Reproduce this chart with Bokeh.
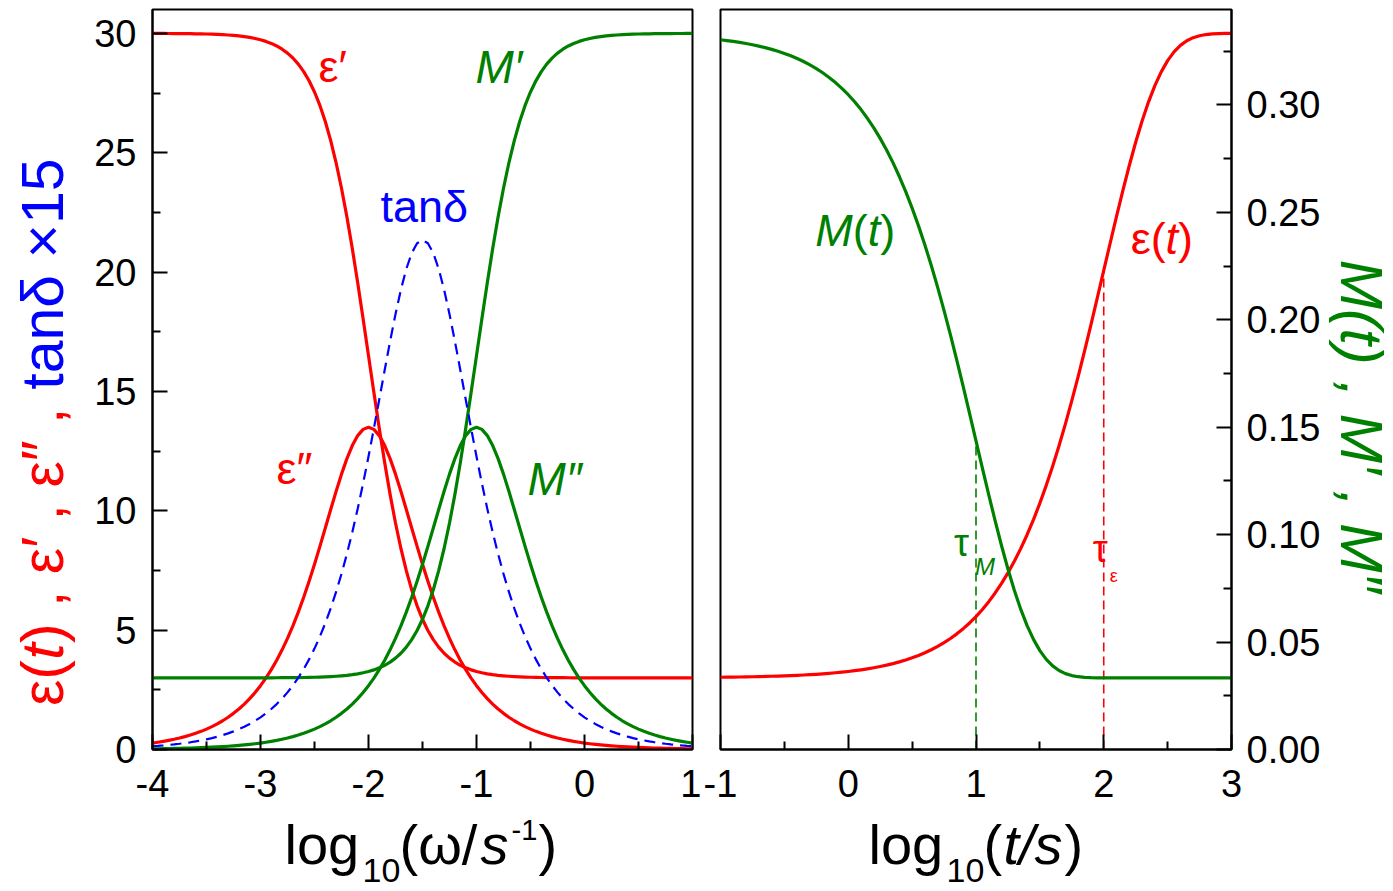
import math

from bokeh.embed import file_html
from bokeh.layouts import column, row
from bokeh.models import FixedTicker, Label, LinearAxis, PrintfTickFormatter, Range1d
from bokeh.plotting import figure
from bokeh.resources import INLINE

# ---------------------------------------------------------------- data
# frequency domain, log10(omega / s^-1)
log_omega = [round(-4 + 0.05 * i, 2) for i in range(101)]

# permittivity, real part
eps_real = [29.997, 29.997, 29.996, 29.995, 29.993, 29.991, 29.989, 29.986, 29.983, 29.979,
            29.973, 29.966, 29.957, 29.946, 29.932, 29.915, 29.893, 29.865, 29.831, 29.787,
            29.733, 29.664, 29.579, 29.472, 29.338, 29.172, 28.966, 28.711, 28.398, 28.013,
            27.545, 26.981, 26.307, 25.509, 24.579, 23.513, 22.312, 20.986, 19.555, 18.047,
            16.500, 14.953, 13.445, 12.014, 10.688, 9.487, 8.421, 7.491, 6.693, 6.019,
            5.455, 4.987, 4.602, 4.289, 4.034, 3.828, 3.662, 3.528, 3.421, 3.336,
            3.267, 3.213, 3.169, 3.135, 3.107, 3.085, 3.068, 3.054, 3.043, 3.034,
            3.027, 3.021, 3.017, 3.014, 3.011, 3.009, 3.007, 3.005, 3.004, 3.003,
            3.003, 3.002, 3.002, 3.001, 3.001, 3.001, 3.001, 3.000, 3.000, 3.000,
            3.000, 3.000, 3.000, 3.000, 3.000, 3.000, 3.000, 3.000, 3.000, 3.000,
            3.000]

# permittivity, imaginary part
eps_imag = [0.270, 0.303, 0.340, 0.382, 0.428, 0.480, 0.538, 0.604, 0.678, 0.760,
            0.853, 0.957, 1.073, 1.204, 1.350, 1.514, 1.697, 1.902, 2.131, 2.387,
            2.673, 2.992, 3.346, 3.739, 4.174, 4.654, 5.181, 5.756, 6.380, 7.050,
            7.762, 8.509, 9.278, 10.054, 10.815, 11.535, 12.185, 12.733, 13.150, 13.411,
            13.500, 13.411, 13.150, 12.733, 12.185, 11.535, 10.815, 10.054, 9.278, 8.509,
            7.762, 7.050, 6.380, 5.756, 5.181, 4.654, 4.174, 3.739, 3.346, 2.992,
            2.673, 2.387, 2.131, 1.902, 1.697, 1.514, 1.350, 1.204, 1.073, 0.957,
            0.853, 0.760, 0.678, 0.604, 0.538, 0.480, 0.428, 0.382, 0.340, 0.303,
            0.270, 0.241, 0.214, 0.191, 0.170, 0.152, 0.135, 0.121, 0.107, 0.096,
            0.085, 0.076, 0.068, 0.060, 0.054, 0.048, 0.043, 0.038, 0.034, 0.030,
            0.027]

# electric modulus, real part
mod_real = [0.03333, 0.03333, 0.03333, 0.03333, 0.03333, 0.03333, 0.03333, 0.03333, 0.03333, 0.03333,
            0.03334, 0.03334, 0.03334, 0.03334, 0.03334, 0.03334, 0.03335, 0.03335, 0.03335, 0.03336,
            0.03336, 0.03337, 0.03338, 0.03339, 0.03341, 0.03343, 0.03345, 0.03348, 0.03352, 0.03357,
            0.03363, 0.03371, 0.03381, 0.03393, 0.03409, 0.03428, 0.03452, 0.03483, 0.03521, 0.03570,
            0.03630, 0.03706, 0.03801, 0.03920, 0.04068, 0.04253, 0.04482, 0.04765, 0.05114, 0.05541,
            0.06061, 0.06688, 0.07437, 0.08324, 0.09356, 0.10541, 0.11876, 0.13349, 0.14939, 0.16614,
            0.18333, 0.20052, 0.21727, 0.23317, 0.24791, 0.26125, 0.27310, 0.28343, 0.29229, 0.29978,
            0.30606, 0.31125, 0.31552, 0.31901, 0.32184, 0.32413, 0.32598, 0.32746, 0.32865, 0.32960,
            0.33036, 0.33097, 0.33145, 0.33183, 0.33214, 0.33238, 0.33258, 0.33273, 0.33286, 0.33295,
            0.33303, 0.33309, 0.33314, 0.33318, 0.33321, 0.33323, 0.33326, 0.33327, 0.33328, 0.33329,
            0.33330]

# electric modulus, imaginary part
mod_imag = [0.00030, 0.00034, 0.00038, 0.00042, 0.00048, 0.00053, 0.00060, 0.00067, 0.00075, 0.00085,
            0.00095, 0.00106, 0.00119, 0.00134, 0.00150, 0.00169, 0.00189, 0.00212, 0.00238, 0.00267,
            0.00300, 0.00337, 0.00378, 0.00424, 0.00476, 0.00533, 0.00598, 0.00671, 0.00753, 0.00845,
            0.00948, 0.01063, 0.01193, 0.01337, 0.01500, 0.01682, 0.01886, 0.02113, 0.02368, 0.02653,
            0.02970, 0.03324, 0.03718, 0.04155, 0.04638, 0.05171, 0.05757, 0.06396, 0.07088, 0.07833,
            0.08624, 0.09454, 0.10309, 0.11171, 0.12017, 0.12817, 0.13538, 0.14148, 0.14611, 0.14901,
            0.15000, 0.14901, 0.14611, 0.14148, 0.13538, 0.12817, 0.12017, 0.11171, 0.10309, 0.09454,
            0.08624, 0.07833, 0.07088, 0.06396, 0.05757, 0.05171, 0.04638, 0.04155, 0.03718, 0.03324,
            0.02970, 0.02653, 0.02368, 0.02113, 0.01886, 0.01682, 0.01500, 0.01337, 0.01193, 0.01063,
            0.00948, 0.00845, 0.00753, 0.00671, 0.00598, 0.00533, 0.00476, 0.00424, 0.00378, 0.00337,
            0.00300]

# loss tangent
tan_delta = [0.00900, 0.01010, 0.01133, 0.01274, 0.01427, 0.01600, 0.01794, 0.02014, 0.02261, 0.02535,
             0.02846, 0.03194, 0.03582, 0.04021, 0.04510, 0.05061, 0.05677, 0.06369, 0.07144, 0.08014,
             0.08990, 0.10086, 0.11312, 0.12687, 0.14227, 0.15954, 0.17887, 0.20048, 0.22466, 0.25167,
             0.28179, 0.31537, 0.35268, 0.39414, 0.44001, 0.49058, 0.54612, 0.60674, 0.67246, 0.74312,
             0.81818, 0.89688, 0.97806, 1.05985, 1.14006, 1.21587, 1.28429, 1.34215, 1.38623, 1.41369,
             1.42292,
             1.41369, 1.38623, 1.34215, 1.28429, 1.21587, 1.14006, 1.05985, 0.97806, 0.89688, 0.81818,
             0.74312, 0.67246, 0.60674, 0.54612, 0.49058, 0.44001, 0.39414, 0.35268, 0.31537, 0.28179,
             0.25167, 0.22466, 0.20048, 0.17887, 0.15954, 0.14227, 0.12687, 0.11312, 0.10086, 0.08990,
             0.08014, 0.07144, 0.06369, 0.05677, 0.05061, 0.04510, 0.04021, 0.03582, 0.03194, 0.02846,
             0.02535, 0.02261, 0.02014, 0.01794, 0.01600, 0.01427, 0.01274, 0.01133, 0.01010, 0.00900]
TAN_SCALE = 15  # tan(delta) is shown multiplied by this factor

# time domain, log10(t / s)
log_t = [round(-1 + 0.05 * i, 2) for i in range(81)]

eps_t = [3.027, 3.030, 3.034, 3.038, 3.043, 3.048, 3.054, 3.060, 3.068, 3.076,
         3.085, 3.096, 3.107, 3.120, 3.135, 3.151, 3.170, 3.190, 3.214, 3.240,
         3.269, 3.301, 3.338, 3.379, 3.425, 3.476, 3.533, 3.598, 3.670, 3.750,
         3.840, 3.941, 4.054, 4.179, 4.320, 4.476, 4.651, 4.845, 5.062, 5.302,
         5.569, 5.866, 6.194, 6.557, 6.957, 7.399, 7.884, 8.416, 8.997, 9.631,
         10.320, 11.065, 11.867, 12.727, 13.643, 14.613, 15.634, 16.698, 17.800, 18.926,
         20.067, 21.208, 22.333, 23.425, 24.465, 25.439, 26.328, 27.122, 27.809, 28.388,
         28.857, 29.223, 29.496, 29.690, 29.820, 29.902, 29.951, 29.977, 29.990, 29.996,
         29.999]

mod_t = [0.33035, 0.32999, 0.32958, 0.32913, 0.32862, 0.32805, 0.32741, 0.32669, 0.32589, 0.32500,
         0.32400, 0.32288, 0.32162, 0.32023, 0.31867, 0.31693, 0.31499, 0.31283, 0.31043, 0.30775,
         0.30478, 0.30149, 0.29785, 0.29381, 0.28936, 0.28446, 0.27907, 0.27316, 0.26670, 0.25965,
         0.25200, 0.24373, 0.23481, 0.22526, 0.21508, 0.20430, 0.19296, 0.18113, 0.16889, 0.15638,
         0.14370, 0.13102, 0.11852, 0.10639, 0.09483, 0.08401, 0.07413, 0.06531, 0.05767, 0.05124,
         0.04603, 0.04197, 0.03893, 0.03678, 0.03533, 0.03442, 0.03388, 0.03359, 0.03344, 0.03337,
         0.03335, 0.03333, 0.03333, 0.03333, 0.03333, 0.03333, 0.03333, 0.03333, 0.03333, 0.03333,
         0.03333, 0.03333, 0.03333, 0.03333, 0.03333, 0.03333, 0.03333, 0.03333, 0.03333, 0.03333,
         0.03333]

log_tau_M = 1.0    # modulus relaxation time
log_tau_eps = 2.0  # permittivity relaxation time

eps_ticks = [0, 5, 10, 15, 20, 25, 30]
mod_ticks = [0.0, 0.05, 0.10, 0.15, 0.20, 0.25, 0.30]
omega_ticks = [-4, -3, -2, -1, 0, 1]
t_ticks = [-1, 0, 1, 2, 3]

# ---------------------------------------------------------------- styling
RED, GREEN, BLUE = "#FF0000", "#008000", "#0000FF"
FONT = "Liberation Sans"
EPS_TOP = 31.0
M_TOP = EPS_TOP / 90.0
LW = 3.2
BASE = 0.37  # label anchor sits this many ems above the glyph baseline

PAGE_W, PAGE_H = 1393, 891
ROW_H = 812                 # panels
FOOT_H = PAGE_H - ROW_H     # strip with the x titles
X_RT = 1323                 # left edge of the right title strip
W_YT, W_RT = 85, PAGE_W - X_RT
W_P1, W_P2 = 701 - W_YT, X_RT - 701
B_TOP = 9
B_BOTTOM = ROW_H - 749


def style_axis(ax, ticks, minor, fmt, standoff):
    ax.ticker = FixedTicker(ticks=ticks, minor_ticks=minor)
    ax.formatter = PrintfTickFormatter(format=fmt)
    ax.axis_line_width = 2
    ax.axis_line_color = "black"
    ax.major_tick_in = 15
    ax.major_tick_out = 0
    ax.minor_tick_in = 8
    ax.minor_tick_out = 0
    ax.major_tick_line_width = 2
    ax.minor_tick_line_width = 2
    ax.major_label_text_font = FONT
    ax.major_label_text_font_size = "38px"
    ax.major_label_text_color = "black"
    ax.major_label_standoff = standoff


def panel(width, x_range, left, right, y_axis_location):
    p = figure(width=width, height=ROW_H, x_range=x_range, y_range=Range1d(0, EPS_TOP),
               output_backend="svg", toolbar_location=None, y_axis_location=y_axis_location,
               min_border_left=left, min_border_right=right,
               min_border_top=B_TOP, min_border_bottom=B_BOTTOM)
    p.xgrid.visible = False
    p.ygrid.visible = False
    p.outline_line_color = "black"
    p.outline_line_width = 2
    p.background_fill_color = "white"
    p.border_fill_color = "white"
    return p


def strip(width, height):
    """Blank drawing area in pixel units, used for the axis titles."""
    s = figure(width=width, height=height, x_range=Range1d(0, width), y_range=Range1d(0, height),
               output_backend="svg", toolbar_location=None, min_border=0,
               x_axis_location=None, y_axis_location=None)
    s.xgrid.visible = False
    s.ygrid.visible = False
    s.outline_line_color = None
    s.background_fill_color = "white"
    s.border_fill_color = "white"
    return s


def text(p, x, y, s, color, size, style="normal", angle=0.0, align="left", range_name="default"):
    p.add_layout(Label(x=x, y=y, text=s, text_color=color, text_font=FONT,
                       text_font_size=f"{size}px", text_font_style=style, angle=angle,
                       text_align=align, text_baseline="alphabetic",
                       y_range_name=range_name))


# ---------------------------------------------------------------- frequency panel
p1 = panel(W_P1, Range1d(-4, 1), 152 - W_YT, 9, "left")
p1.extra_y_ranges = {"M": Range1d(0, M_TOP), "tan": Range1d(0, EPS_TOP / TAN_SCALE)}

style_axis(p1.xaxis[0], omega_ticks, [-3.5, -2.5, -1.5, -0.5, 0.5], "%d", 20)
style_axis(p1.yaxis[0], eps_ticks, [2.5, 7.5, 12.5, 17.5, 22.5, 27.5], "%d", 16)

p1.line(log_omega, eps_real, color=RED, line_width=LW, line_join="round")
p1.line(log_omega, eps_imag, color=RED, line_width=LW, line_join="round")
p1.line(log_omega, mod_real, color=GREEN, line_width=LW, line_join="round", y_range_name="M")
p1.line(log_omega, mod_imag, color=GREEN, line_width=LW, line_join="round", y_range_name="M")
p1.line(log_omega, tan_delta, color=BLUE, line_width=2.2, line_dash="11 7", y_range_name="tan")

text(p1, -2.463, 28.60, "ε′", RED, 45)
text(p1, -1.009, 28.60, "M′", GREEN, 46, "italic")
text(p1, -1.889, 22.73, "tanδ", BLUE, 45)
text(p1, -2.852, 11.76, "ε″", RED, 45)
text(p1, -0.528, 11.34, "M″", GREEN, 46, "italic")

# ---------------------------------------------------------------- time panel
p2 = panel(W_P2, Range1d(-1, 3), 19, X_RT - 1232, None)
p2.extra_y_ranges = {"M": Range1d(0, M_TOP)}
m_axis = LinearAxis(y_range_name="M")
p2.add_layout(m_axis, "right")

style_axis(p2.xaxis[0], t_ticks, [-0.5, 0.5, 1.5, 2.5], "%d", 20)
style_axis(m_axis, mod_ticks, [0.025, 0.075, 0.125, 0.175, 0.225, 0.275, 0.325], "%.2f", 15)

i_M = log_t.index(log_tau_M)
i_eps = log_t.index(log_tau_eps)
p2.segment(x0=[log_tau_M], y0=[0], x1=[log_tau_M], y1=[mod_t[i_M]], color=GREEN,
           line_width=1.6, line_dash="9 5", y_range_name="M")
p2.segment(x0=[log_tau_eps], y0=[0], x1=[log_tau_eps], y1=[eps_t[i_eps]], color=RED,
           line_width=1.6, line_dash="9 5")

p2.line(log_t, eps_t, color=RED, line_width=LW, line_join="round")
p2.line(log_t, mod_t, color=GREEN, line_width=LW, line_join="round", y_range_name="M")

# M(t)
text(p2, -0.258, 21.73, "M", GREEN, 45, "italic")
text(p2, 0.035, 21.73, "(", GREEN, 45)
text(p2, 0.152, 21.73, "t", GREEN, 45, "italic")
text(p2, 0.250, 21.73, ")", GREEN, 45)
# eps(t)
text(p2, 2.211, 21.39, "ε(", RED, 45)
text(p2, 2.483, 21.39, "t", RED, 45, "italic")
text(p2, 2.581, 21.39, ")", RED, 45)
# relaxation times
text(p2, 0.828, 8.63, "τ", GREEN, 38)
text(p2, 0.992, 7.66, "M", GREEN, 24, "italic")
text(p2, 1.914, 8.38, "τ", RED, 38)
text(p2, 2.047, 7.28, "ε", RED, 18)

# ---------------------------------------------------------------- title strips
# local coordinates: pixels, y measured up from the strip bottom
up = math.pi / 2
TS = 59  # vertical titles

# left: read bottom to top, each piece centred on its place
yt = strip(W_YT, PAGE_H)
tx = 64 - BASE * TS
text(yt, tx, PAGE_H - 682.6, "ε(", RED, TS, angle=up, align="center")
text(yt, tx, PAGE_H - 651.0, "t", RED, TS, "italic", angle=up, align="center")
text(yt, tx, PAGE_H - 524.8, ") , ε′ , ε″ ,", RED, TS, angle=up, align="center")
text(yt, tx, PAGE_H - 273.5, "tanδ ×15", BLUE, TS, angle=up, align="center")

# right: read top to bottom
rt = strip(W_RT, PAGE_H)
text(rt, 1339 + BASE * TS - X_RT, PAGE_H - 426, "M(t) , M′ , M″", GREEN, TS, "italic",
     angle=-up, align="center")

# bottom: both x titles
xt = strip(W_P1 + W_P2, FOOT_H)
X0 = W_YT
yb = PAGE_H - (865 - BASE * 56)
ysub = PAGE_H - (883 - BASE * 34)
ysup = PAGE_H - (840 - BASE * 29)
text(xt, 284 - X0, yb, "log", "black", 56)
text(xt, 362 - X0, ysub, "10", "black", 34)
text(xt, 399 - X0, yb, "(ω/", "black", 56)
text(xt, 480 - X0, yb, "s", "black", 56, "italic")
text(xt, 511 - X0, ysup, "-1", "black", 29)
text(xt, 538 - X0, yb, ")", "black", 56)

text(xt, 868 - X0, yb, "log", "black", 56)
text(xt, 946 - X0, ysub, "10", "black", 34)
text(xt, 983 - X0, yb, "(", "black", 56)
text(xt, 1003 - X0, yb, "t/s", "black", 56, "italic")
text(xt, 1064 - X0, yb, ")", "black", 56)

layout = row(yt, column(row(p1, p2), xt), rt)
open("out.html", "w").write(file_html(layout, INLINE))
